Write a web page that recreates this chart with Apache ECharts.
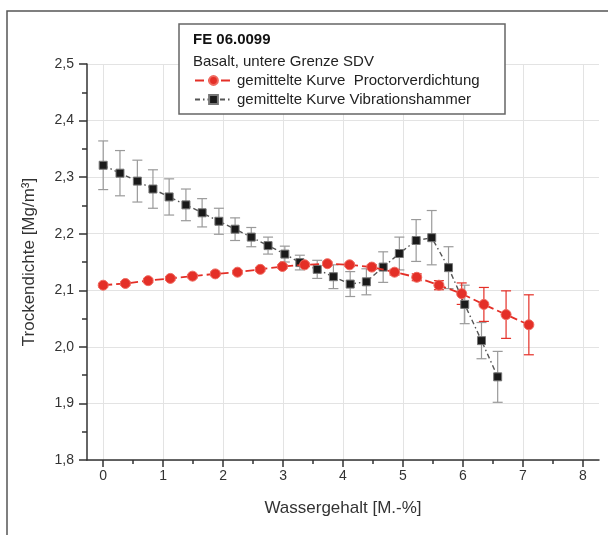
<!DOCTYPE html>
<html>
<head>
<meta charset="utf-8">
<title>Trockendichte – Wassergehalt</title>
<script src="https://cdn.jsdelivr.net/npm/echarts@6/dist/echarts.min.js"></script>
<style>
  html, body { margin: 0; padding: 0; background: #fff; }
  #chart { width: 608px; height: 535px; }
</style>
</head>
<body>
<div id="chart"></div>
<script>
// Proctorverdichtung (averaged curve): water content, dry density, scatter
const proctorX = [0, 0.37, 0.75, 1.12, 1.49, 1.87, 2.24, 2.62, 2.99, 3.36,
                  3.74, 4.11, 4.48, 4.86, 5.23, 5.60, 5.98, 6.35, 6.72, 7.10];
const proctorY = [2.109, 2.112, 2.117, 2.121, 2.125, 2.129, 2.132, 2.137, 2.142, 2.145,
                  2.147, 2.145, 2.141, 2.132, 2.123, 2.109, 2.094, 2.075, 2.057, 2.039];
const proctorErr = [0.003, 0.003, 0.003, 0.003, 0.003, 0.003, 0.003, 0.003, 0.003, 0.003,
                    0.003, 0.003, 0.004, 0.005, 0.006, 0.008, 0.019, 0.030, 0.042, 0.053];

// Vibrationshammer (averaged curve)
const hammerX = [0, 0.28, 0.57, 0.83, 1.10, 1.38, 1.65, 1.93, 2.20, 2.47,
                 2.75, 3.03, 3.28, 3.57, 3.84, 4.12, 4.39, 4.67, 4.94, 5.22,
                 5.48, 5.76, 6.03, 6.31, 6.58];
const hammerY = [2.321, 2.307, 2.293, 2.279, 2.265, 2.251, 2.237, 2.222, 2.208, 2.194,
                 2.179, 2.164, 2.149, 2.137, 2.124, 2.111, 2.115, 2.141, 2.165, 2.188,
                 2.193, 2.140, 2.075, 2.011, 1.947];
const hammerErr = [0.043, 0.040, 0.037, 0.034, 0.032, 0.028, 0.025, 0.023, 0.020, 0.017,
                   0.015, 0.014, 0.013, 0.016, 0.021, 0.022, 0.023, 0.027, 0.029, 0.037,
                   0.048, 0.037, 0.034, 0.032, 0.045];

// Axis ticks
const xTicks = [0, 1, 2, 3, 4, 5, 6, 7, 8];
const xMinorTicks = [0.5, 1.5, 2.5, 3.5, 4.5, 5.5, 6.5, 7.5];
const yMin = 1.8, yMax = 2.5, yStep = 0.1;

const titleLine1 = 'FE 06.0099';
const titleLine2 = 'Basalt, untere Grenze SDV';
const nameProctor = 'gemittelte Kurve  Proctorverdichtung';
const nameHammer = 'gemittelte Kurve Vibrationshammer';

const RED = '#e42f27';
const DARK = '#1a1a1a';
const AXIS = '#333';
const FONT = 'Liberation Sans, Arial, sans-serif';

function points(xs, ys) { return xs.map((x, i) => [x, ys[i]]); }
function errPoints(xs, ys, es) { return xs.map((x, i) => [x, ys[i], es[i]]); }

// vertical error bar with caps
function errorBar(color) {
  return function (params, api) {
    const x = api.value(0), y = api.value(1), e = api.value(2);
    const top = api.coord([x, y + e]);
    const bot = api.coord([x, y - e]);
    const w = 5;
    const style = { stroke: color, lineWidth: 1.2 };
    return {
      type: 'group',
      children: [
        { type: 'line', shape: { x1: top[0], y1: top[1], x2: bot[0], y2: bot[1] }, style },
        { type: 'line', shape: { x1: top[0] - w, y1: top[1], x2: top[0] + w, y2: top[1] }, style },
        { type: 'line', shape: { x1: bot[0] - w, y1: bot[1], x2: bot[0] + w, y2: bot[1] }, style }
      ]
    };
  };
}

const chart = echarts.init(document.getElementById('chart'), null, { renderer: 'canvas' });

const option = {
  backgroundColor: '#fff',
  animation: false,
  textStyle: { fontFamily: FONT },
  grid: { left: 87, right: 9, top: 64, bottom: 75, containLabel: false },
  xAxis: [{
    type: 'value',
    min: -0.27,
    max: 8.27,
    name: 'Wassergehalt [M.-%]',
    nameLocation: 'middle',
    nameGap: 40,
    nameTextStyle: { fontSize: 17, color: AXIS, fontFamily: FONT },
    axisLine: { show: true, onZero: false, lineStyle: { color: AXIS, width: 1.5 } },
    axisTick: { show: true, length: 7, customValues: xTicks, lineStyle: { color: AXIS, width: 1.5 } },
    axisLabel: { customValues: xTicks, fontSize: 14, color: AXIS, margin: 9, fontFamily: FONT },
    splitLine: { show: true, lineStyle: { color: '#e3e3e3', width: 1 } },
    minorTick: { show: false }
  }, {
    // minor ticks of the bottom axis
    type: 'value',
    position: 'bottom',
    min: -0.27,
    max: 8.27,
    axisLine: { show: false, onZero: false },
    axisTick: { show: true, length: 4, customValues: xMinorTicks, lineStyle: { color: AXIS, width: 1.5 } },
    axisLabel: { show: false },
    splitLine: { show: false }
  }],
  yAxis: {
    type: 'value',
    min: yMin,
    max: yMax,
    interval: yStep,
    name: 'Trockendichte [Mg/m³]',
    nameLocation: 'middle',
    nameGap: 49,
    nameTextStyle: { fontSize: 17, color: AXIS, fontFamily: FONT },
    axisLine: { show: true, onZero: false, lineStyle: { color: AXIS, width: 1.5 } },
    axisTick: { show: true, length: 8, lineStyle: { color: AXIS, width: 1.5 } },
    minorTick: { show: true, splitNumber: 2, length: 5, lineStyle: { color: AXIS, width: 1.5 } },
    axisLabel: {
      fontSize: 14, color: AXIS, margin: 13, fontFamily: FONT,
      formatter: v => v.toFixed(1).replace('.', ',')
    },
    splitLine: { show: true, lineStyle: { color: '#e3e3e3', width: 1 } }
  },
  legend: {
    left: 194,
    top: 73,
    orient: 'vertical',
    padding: 0,
    itemGap: 4,
    itemWidth: 37,
    itemHeight: 11,
    textStyle: { fontSize: 15, color: '#222', fontFamily: FONT },
    data: [nameProctor, nameHammer]
  },
  graphic: [
    {
      // outer frame
      type: 'polyline', z: 10, silent: true,
      shape: { points: [[7, 535], [7, 11], [608, 11]] },
      style: { stroke: '#555', lineWidth: 1.5, fill: null }
    },
    {
      type: 'rect', z: 3, silent: true,
      shape: { x: 179, y: 24, width: 326, height: 90 },
      style: { fill: '#fff', stroke: '#666', lineWidth: 1.5 }
    },
    {
      type: 'text', z: 5, silent: true, left: 193, top: 32,
      style: { text: titleLine1, font: 'bold 15px ' + FONT, fill: '#111' }
    },
    {
      type: 'text', z: 5, silent: true, left: 193, top: 54,
      style: { text: titleLine2, font: '15px ' + FONT, fill: '#222' }
    }
  ],
  series: [
    {
      name: nameHammer + ' err',
      type: 'custom',
      renderItem: errorBar('#9a9a9a'),
      data: errPoints(hammerX, hammerY, hammerErr),
      z: 1,
      silent: true
    },
    {
      name: nameProctor + ' err',
      type: 'custom',
      renderItem: errorBar(RED),
      data: errPoints(proctorX, proctorY, proctorErr),
      z: 1,
      silent: true
    },
    {
      name: nameHammer,
      type: 'line',
      data: points(hammerX, hammerY),
      symbol: 'rect',
      symbolSize: 8,
      itemStyle: { color: DARK, borderColor: '#777', borderWidth: 1 },
      lineStyle: { color: '#555', width: 1.4, type: [5, 3, 1.5, 3] },
      z: 3
    },
    {
      name: nameProctor,
      type: 'line',
      data: points(proctorX, proctorY),
      symbol: 'circle',
      symbolSize: 10,
      itemStyle: { color: RED, borderColor: '#ef6a60', borderWidth: 1 },
      lineStyle: { color: RED, width: 1.8, type: [9, 4] },
      z: 4
    }
  ]
};

chart.setOption(option);
</script>
</body>
</html>
